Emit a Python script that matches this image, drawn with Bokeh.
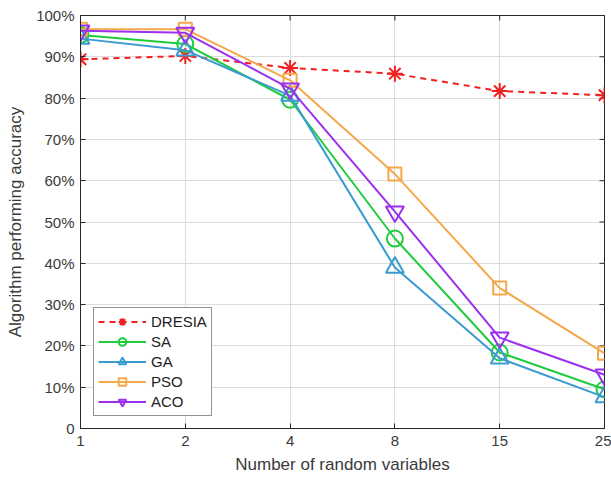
import math
from bokeh.plotting import figure
from bokeh.models import Range1d, FixedTicker, Legend, LegendItem
from bokeh.embed import file_html
from bokeh.resources import INLINE

x_labels = ["1", "2", "4", "8", "15", "25"]
dresia = [89.4, 90.2, 87.3, 85.9, 81.7, 80.7]
sa = [95.3, 93.1, 79.6, 46.0, 18.4, 9.5]
ga = [94.4, 91.6, 80.6, 39.0, 17.0, 7.6]
pso = [96.7, 96.7, 84.3, 61.6, 34.0, 18.2]
aco = [96.3, 95.8, 82.3, 52.5, 22.0, 13.0]
y_ticks = [0, 10, 20, 30, 40, 50, 60, 70, 80, 90, 100]
y_labels = ["0"] + [f"{t}%" for t in y_ticks[1:]]

xs = list(range(len(x_labels)))
FONT = "Liberation Sans"
TXT = "#3a3a3a"
Y_MAX = y_ticks[-1]
X_MAX = xs[-1]

p = figure(width=611, height=481, output_backend="svg", toolbar_location=None,
           x_range=Range1d(0, X_MAX), y_range=Range1d(0, Y_MAX),
           min_border_left=80, min_border_right=7, min_border_top=15, min_border_bottom=53)
p.background_fill_color = "white"
p.border_fill_color = "white"
p.outline_line_color = "#262626"
p.outline_line_width = 1

for ax in (p.xaxis[0], p.yaxis[0]):
    ax.axis_line_color = "#262626"
    ax.major_tick_in = 5
    ax.major_tick_out = 0
    ax.minor_tick_line_color = None
    ax.major_tick_line_color = "#262626"
    ax.major_label_text_font = FONT
    ax.major_label_text_font_size = "15px"
    ax.major_label_text_color = TXT
    ax.axis_label_text_font = FONT
    ax.axis_label_text_font_size = "17px"
    ax.axis_label_text_font_style = "normal"
    ax.axis_label_text_color = TXT

p.xaxis.ticker = FixedTicker(ticks=xs)
p.xaxis.major_label_overrides = {i: l for i, l in zip(xs, x_labels)}
p.yaxis.ticker = FixedTicker(ticks=y_ticks)
p.yaxis.major_label_overrides = {t: l for t, l in zip(y_ticks, y_labels)}
p.xaxis.axis_label = "Number of random variables"
p.yaxis.axis_label = "Algorithm performing accuracy"
p.xaxis.major_label_standoff = 7
p.xaxis.axis_label_standoff = 6
p.yaxis.major_label_standoff = 6
p.yaxis.axis_label_standoff = 8

p.xgrid.ticker = FixedTicker(ticks=xs)
p.ygrid.ticker = FixedTicker(ticks=y_ticks)
p.grid.grid_line_color = "#dcdcdc"
p.grid.grid_line_width = 1

# inward tick marks on the top and right sides of the box
p.scatter(xs, [Y_MAX] * len(xs), marker="dash", angle=math.pi / 2, size=10,
          line_color="#262626", line_width=1)
p.scatter([X_MAX] * len(y_ticks), y_ticks, marker="dash", size=10,
          line_color="#262626", line_width=1)

series = [
    ("DRESIA", dresia, "#f22020", "asterisk", 16, "6 5"),
    ("SA", sa, "#1ecc3c", "circle", 16, "solid"),
    ("GA", ga, "#3a9bd0", "triangle", 18, "solid"),
    ("PSO", pso, "#f5a84a", "square", 13, "solid"),
    ("ACO", aco, "#9b30f0", "inverted_triangle", 18, "solid"),
]
items = []
for name, ys, color, marker, size, dash in series:
    r1 = p.line(xs, ys, line_color=color, line_width=2, line_dash=dash)
    r2 = p.scatter(xs, ys, marker=marker, size=size, line_color=color,
                   line_width=2, fill_color=None)
    items.append(LegendItem(label=name, renderers=[r1, r2]))

legend = Legend(items=items, location=(13, 12))
legend.border_line_color = "#262626"
legend.border_line_width = 1
legend.background_fill_color = "white"
legend.background_fill_alpha = 1
legend.label_text_font = FONT
legend.label_text_font_size = "15px"
legend.label_text_color = "#222222"
legend.glyph_width = 48
legend.glyph_height = 19
legend.label_height = 19
legend.spacing = 1
legend.padding = 4
legend.margin = 0
legend.label_standoff = 5
p.add_layout(legend, "center")

open("out.html", "w").write(file_html(p, INLINE))
